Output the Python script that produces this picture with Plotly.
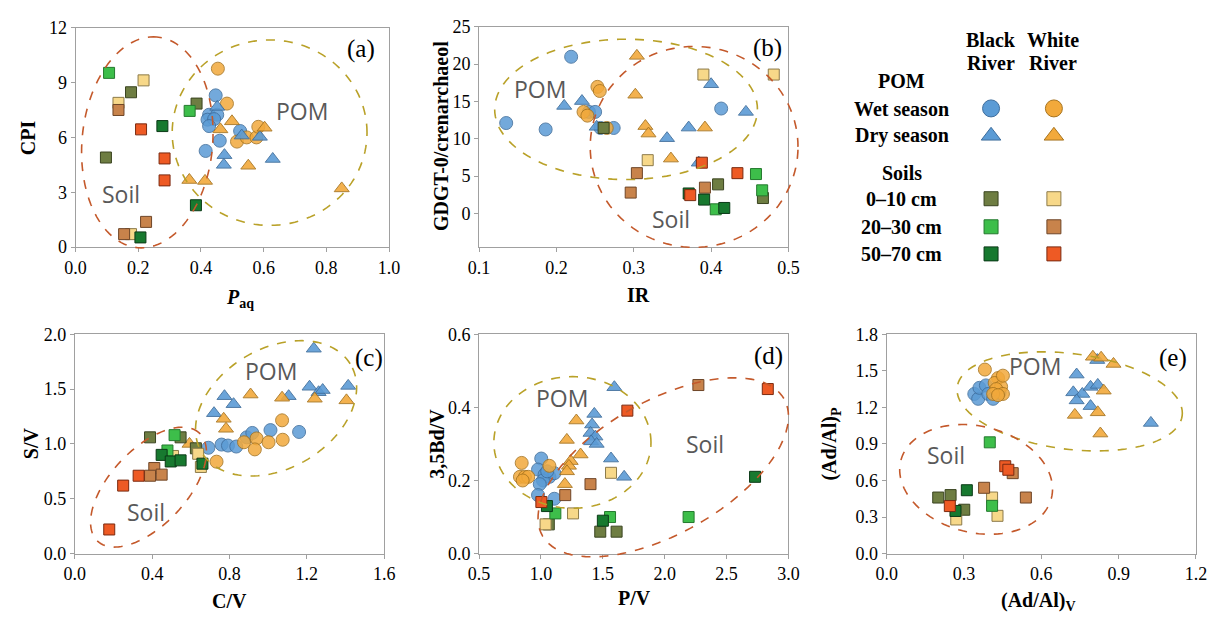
import numpy as np
import plotly.graph_objects as go

W, H = 1223, 621

# ---------------- data ----------------
# Panel (a): P_aq vs CPI
A_BLACK_WET = [(0.447, 8.30), (0.426, 7.24), (0.452, 7.24), (0.421, 6.97), (0.442, 7.00),
               (0.426, 6.62), (0.460, 5.82), (0.415, 5.26), (0.525, 6.35)]
A_WHITE_WET = [(0.454, 9.76), (0.483, 7.85), (0.515, 5.77), (0.546, 6.00), (0.577, 6.00), (0.583, 6.58)]
A_BLACK_DRY = [(0.452, 7.67), (0.475, 5.03), (0.473, 4.50), (0.588, 6.03), (0.629, 4.82), (0.530, 6.10)]
A_WHITE_DRY = [(0.462, 6.44), (0.499, 6.88), (0.603, 6.53), (0.551, 4.45), (0.363, 3.67),
               (0.413, 3.62), (0.849, 3.21)]
A_S1_BLACK = [(0.177, 8.47), (0.097, 4.90), (0.386, 7.85)]
A_S1_WHITE = [(0.217, 9.12), (0.137, 7.89), (0.177, 0.71)]
A_S2_BLACK = [(0.107, 9.53), (0.364, 7.45)]
A_S2_WHITE = [(0.137, 7.50), (0.225, 1.38), (0.155, 0.71)]
A_S3_BLACK = [(0.277, 6.62), (0.384, 2.29), (0.207, 0.53)]
A_S3_WHITE = [(0.209, 6.44), (0.284, 4.85), (0.284, 3.65)]

# Panel (b): IR vs GDGT-0/crenarchaeol
B_BLACK_WET = [(0.219, 20.98), (0.135, 12.11), (0.186, 11.25), (0.242, 13.6), (0.250, 13.6),
               (0.257, 11.45), (0.274, 11.45), (0.413, 14.05)]
B_WHITE_WET = [(0.253, 16.95), (0.256, 16.4), (0.235, 13.6), (0.240, 13.1), (0.265, 11.45)]
B_BLACK_DRY = [(0.210, 14.4), (0.233, 15.05), (0.400, 17.3), (0.445, 13.6), (0.371, 11.5),
               (0.343, 10.08), (0.384, 6.8), (0.252, 11.6)]
B_WHITE_DRY = [(0.304, 21.1), (0.302, 15.9), (0.315, 11.7), (0.319, 10.7), (0.392, 11.5), (0.348, 7.35)]
B_S1_BLACK = [(0.261, 11.45), (0.409, 3.9), (0.467, 2.07)]
B_S1_WHITE = [(0.390, 18.6), (0.481, 18.6), (0.318, 7.14)]
B_S2_BLACK = [(0.458, 5.28), (0.466, 3.1), (0.406, 0.56)]
B_S2_WHITE = [(0.304, 5.4), (0.296, 2.8), (0.392, 3.46)]
B_S3_BLACK = [(0.371, 2.68), (0.391, 1.86), (0.417, 0.74)]
B_S3_WHITE = [(0.388, 6.8), (0.434, 5.4), (0.373, 2.46)]

# Panel (c): C/V vs S/V
C_BLACK_WET = [(0.691, 0.965), (0.759, 0.994), (0.792, 0.985), (0.835, 0.976), (0.889, 1.06),
               (0.918, 1.10), (1.012, 1.126), (1.160, 1.109)]
C_WHITE_WET = [(0.733, 0.838), (0.875, 1.015), (0.940, 1.05), (0.931, 0.95), (1.002, 1.015),
               (1.072, 1.215), (1.075, 1.038)]
C_BLACK_DRY = [(0.720, 1.28), (0.774, 1.435), (0.821, 1.362), (1.106, 1.435), (1.236, 1.868),
               (1.214, 1.521), (1.261, 1.471), (1.282, 1.491), (1.414, 1.529)]
C_WHITE_DRY = [(0.593, 1.0), (0.770, 1.229), (0.782, 1.138), (0.909, 1.45), (1.072, 1.421),
               (1.241, 1.412), (1.405, 1.397)]
C_S1_BLACK = [(0.389, 1.06), (0.547, 1.06), (0.626, 0.96)]
C_S1_WHITE = [(0.508, 0.89), (0.638, 0.91), (0.652, 0.79)]
C_S2_BLACK = [(0.516, 1.08), (0.479, 0.94)]
C_S2_WHITE = [(0.411, 0.78), (0.449, 0.72), (0.389, 0.71)]
C_S3_BLACK = [(0.449, 0.90), (0.496, 0.84), (0.547, 0.85), (0.660, 0.82)]
C_S3_WHITE = [(0.178, 0.22), (0.250, 0.62), (0.330, 0.71)]

# Panel (d): P/V vs 3,5Bd/V
D_BLACK_WET = [(1.002, 0.26), (0.976, 0.23), (1.029, 0.216), (1.068, 0.21), (1.108, 0.22),
               (1.016, 0.20), (0.990, 0.19), (0.976, 0.16), (1.108, 0.15), (1.050, 0.225)]
D_WHITE_WET = [(0.844, 0.248), (0.830, 0.21), (0.870, 0.21), (0.897, 0.21), (0.852, 0.20), (1.068, 0.24)]
D_BLACK_DRY = [(1.593, 0.455), (1.431, 0.382), (1.413, 0.353), (1.400, 0.33), (1.440, 0.32),
               (1.405, 0.307), (1.450, 0.30), (1.566, 0.26), (1.672, 0.21)]
D_WHITE_DRY = [(1.286, 0.364), (1.209, 0.311), (1.320, 0.271), (1.240, 0.253), (1.226, 0.24),
               (1.210, 0.225), (1.193, 0.19)]
D_S1_BLACK = [(1.479, 0.06), (1.611, 0.06), (1.063, 0.08)]
D_S1_WHITE = [(1.566, 0.221), (1.259, 0.11), (1.037, 0.08)]
D_S2_BLACK = [(2.193, 0.10), (1.558, 0.10), (1.116, 0.11)]
D_S2_WHITE = [(2.272, 0.461), (1.400, 0.19), (1.196, 0.16)]
D_S3_BLACK = [(2.730, 0.21), (1.500, 0.09), (1.048, 0.13)]
D_S3_WHITE = [(2.833, 0.45), (1.698, 0.391), (1.003, 0.141)]

# Panel (e): (Ad/Al)V vs (Ad/Al)P
E_BLACK_WET = [(0.340, 1.31), (0.355, 1.27), (0.360, 1.36), (0.385, 1.38), (0.394, 1.31),
               (0.413, 1.27), (0.438, 1.32)]
E_WHITE_WET = [(0.381, 1.51), (0.432, 1.44), (0.419, 1.40), (0.444, 1.37), (0.425, 1.35),
               (0.451, 1.31), (0.413, 1.31), (0.432, 1.30), (0.451, 1.46)]
E_BLACK_DRY = [(0.737, 1.469), (0.724, 1.323), (0.759, 1.31), (0.791, 1.368), (0.737, 1.257),
               (0.819, 1.384), (0.791, 1.21), (0.817, 1.588), (1.025, 1.072)]
E_WHITE_DRY = [(0.800, 1.615), (0.832, 1.607), (0.880, 1.556), (0.842, 1.337), (0.730, 1.138),
               (0.819, 1.159), (0.829, 0.985)]
E_S1_BLACK = [(0.200, 0.46), (0.248, 0.48), (0.301, 0.36)]
E_S1_WHITE = [(0.409, 0.46), (0.430, 0.31), (0.270, 0.28)]
E_S2_BLACK = [(0.400, 0.913), (0.409, 0.392)]
E_S2_WHITE = [(0.489, 0.66), (0.378, 0.54), (0.540, 0.46)]
E_S3_BLACK = [(0.311, 0.52), (0.267, 0.35)]
E_S3_WHITE = [(0.460, 0.717), (0.472, 0.688), (0.245, 0.39)]

# tick values
A_XTICKS = [0.0, 0.2, 0.4, 0.6, 0.8, 1.0]; A_YTICKS = [0, 3, 6, 9, 12]
B_XTICKS = [0.1, 0.2, 0.3, 0.4, 0.5];      B_YTICKS = [0, 5, 10, 15, 20, 25]
C_XTICKS = [0.0, 0.4, 0.8, 1.2, 1.6];      C_YTICKS = [0.0, 0.5, 1.0, 1.5, 2.0]
D_XTICKS = [0.5, 1.0, 1.5, 2.0, 2.5, 3.0]; D_YTICKS = [0.0, 0.2, 0.4, 0.6]
E_XTICKS = [0.0, 0.3, 0.6, 0.9, 1.2];      E_YTICKS = [0.0, 0.3, 0.6, 0.9, 1.2, 1.5, 1.8]

# ---------------- styles ----------------
BLUE, BLUE_E = '#5B9BD5', '#3E6D9C'
ORNG, ORNG_E = '#F2A93B', '#A7741F'
STYLES = [  # symbol, fill, edge, size, opacity
    ('circle', BLUE, BLUE_E, 13, 0.85),
    ('circle', ORNG, ORNG_E, 13, 0.85),
    ('triangle-up', BLUE, BLUE_E, 13, 0.9),
    ('triangle-up', ORNG, ORNG_E, 13, 0.9),
    ('square', '#6E7D42', '#3A4420', 11, 1),
    ('square', '#F7D889', '#8C7A4A', 11, 1),
    ('square', '#3DBE4A', '#24792E', 11, 1),
    ('square', '#C8834B', '#6E4527', 11, 1),
    ('square', '#17792F', '#0B3A17', 11, 1),
    ('square', '#EE5A24', '#7A2A10', 11, 1),
]

SOIL_C = '#C4592B'
POM_C = '#B9A128'
SERIF = 'Liberation Serif'
SANS = 'Open Sans'

PANELS = [
    dict(lab='(a)', series=[A_BLACK_WET, A_WHITE_WET, A_BLACK_DRY, A_WHITE_DRY, A_S1_BLACK, A_S1_WHITE,
                           A_S2_BLACK, A_S2_WHITE, A_S3_BLACK, A_S3_WHITE],
         px=(65.7, 385, 18.3, 245), xr=[0, 1], yr=[0, 12], xt=A_XTICKS, yt=A_YTICKS, xf='{:.1f}', yf='{:d}',
         ell=[(SOIL_C, 0.229, 5.73, 109.3, 66.5, 84.9), (POM_C, 0.619, 6.26, 99.2, 95.8, 0)],
         soil=(111.7, 190), pom=(296.7, 104), labpos=(356.7, 40),
         ytitle=('<b>CPI</b>', 18, 131.7), xtitle=('<b><i>P</i><sub>aq</sub></b>', 233, 298)),
    dict(lab='(b)', series=[B_BLACK_WET, B_WHITE_WET, B_BLACK_DRY, B_WHITE_DRY, B_S1_BLACK, B_S1_WHITE,
                           B_S2_BLACK, B_S2_WHITE, B_S3_BLACK, B_S3_WHITE],
         px=(476.7, 791.7, 17.3, 245), xr=[0.1, 0.5], yr=[-4.5, 25], xt=B_XTICKS, yt=B_YTICKS, xf='{:.1f}', yf='{:d}',
         ell=[(POM_C, 0.29, 13.94, 133.8, 72.5, 0), (SOIL_C, 0.378, 8.92, 105.8, 103.8, 0)],
         soil=(671.7, 216), pom=(538.3, 81.7), labpos=(770, 39.3),
         ytitle=('<b>GDGT-0/crenarchaeol</b>', 438, 130), xtitle=('<b>IR</b>', 639, 294)),
    dict(lab='(c)', series=[C_BLACK_WET, C_WHITE_WET, C_BLACK_DRY, C_WHITE_DRY, C_S1_BLACK, C_S1_WHITE,
                           C_S2_BLACK, C_S2_WHITE, C_S3_BLACK, C_S3_WHITE],
         px=(65, 380, 335, 561.7), xr=[0, 1.6], yr=[0, 2.0], xt=C_XTICKS, yt=C_YTICKS, xf='{:.1f}', yf='{:.1f}',
         ell=[(SOIL_C, 0.381, 0.606, 76.2, 38.9, 47.4), (POM_C, 1.041, 1.324, 88.4, 61.7, 31.4)],
         soil=(137.3, 518.3), pom=(265, 372.7), labpos=(364.3, 360),
         ytitle=('<b>S/V</b>', 20, 448), xtitle=('<b>C/V</b>', 222.7, 611)),
    dict(lab='(d)', series=[D_BLACK_WET, D_WHITE_WET, D_BLACK_DRY, D_WHITE_DRY, D_S1_BLACK, D_S1_WHITE,
                           D_S2_BLACK, D_S2_WHITE, D_S3_BLACK, D_S3_WHITE],
         px=(476.7, 791.7, 335, 561.7), xr=[0.5, 3.0], yr=[0, 0.6], xt=D_XTICKS, yt=D_YTICKS, xf='{:.1f}', yf='{:.1f}',
         ell=[(POM_C, 1.254, 0.304, 80, 68, 0), (SOIL_C, 1.988, 0.236, 141.9, 68.4, 30.05)],
         soil=(706.7, 448.3), pom=(561, 400.7), labpos=(771.7, 357.3),
         ytitle=('<b>3,5Bd/V</b>', 433, 448), xtitle=('<b>P/V</b>', 635, 608)),
    dict(lab='(e)', series=[E_BLACK_WET, E_WHITE_WET, E_BLACK_DRY, E_WHITE_DRY, E_S1_BLACK, E_S1_WHITE,
                           E_S2_BLACK, E_S2_WHITE, E_S3_BLACK, E_S3_WHITE],
         px=(891.7, 1206.7, 335, 561.7), xr=[0, 1.2], yr=[0, 1.8], xt=E_XTICKS, yt=E_YTICKS, xf='{:.1f}', yf='{:.1f}',
         ell=[(POM_C, 0.71, 1.249, 115.5, 49.4, -7.4), (SOIL_C, 0.347, 0.609, 79.1, 54.9, -14.4)],
         soil=(951.7, 460), pom=(1042.7, 368.3), labpos=(1183.3, 360),
         ytitle=('<b>(Ad/Al)<sub>P</sub></b>', 835, 448), xtitle=('<b>(Ad/Al)<sub>V</sub></b>', 1046.7, 611)),
]

fig = go.Figure()
shapes, annos = [], []


def pxx(v):
    return v / W


def pxy(v):
    return 1 - v / H


for i, p in enumerate(PANELS):
    n = '' if i == 0 else str(i + 1)
    x0, x1, y0, y1 = p['px']
    ax = dict(domain=[pxx(x0), pxx(x1)], range=p['xr'], showgrid=False, zeroline=False,
              showline=True, linecolor='#A0A0A0', linewidth=1, mirror=True,
              ticks='outside', ticklen=4, tickcolor='#A0A0A0',
              tickvals=p['xt'], ticktext=[p['xf'].format(v) for v in p['xt']],
              tickfont=dict(family=SERIF, size=18, color='black'), anchor='y' + n, fixedrange=True)
    ay = dict(domain=[pxy(y1), pxy(y0)], range=p['yr'], showgrid=False, zeroline=False,
              showline=True, linecolor='#A0A0A0', linewidth=1, mirror=True,
              ticks='outside', ticklen=4, tickcolor='#A0A0A0',
              tickvals=p['yt'], ticktext=[p['yf'].format(v) for v in p['yt']],
              tickfont=dict(family=SERIF, size=18, color='black'), anchor='x' + n, fixedrange=True)
    fig.update_layout(**{'xaxis' + n: ax, 'yaxis' + n: ay})

    for data, (sym, fc, ec, sz, op) in zip(p['series'], STYLES):
        fig.add_trace(go.Scatter(x=[d[0] for d in data], y=[d[1] for d in data], mode='markers',
                                 xaxis='x' + n, yaxis='y' + n, showlegend=False,
                                 marker=dict(symbol=sym, color=fc, size=sz, opacity=op,
                                             line=dict(color=ec, width=1))))

    # ellipses (center in data units, semi-axes in pixels, angle in degrees)
    def d2p(xv, yv, p=p):
        xa0, xa1, ya0, ya1 = p['px']
        X = xa0 + (xv - p['xr'][0]) / (p['xr'][1] - p['xr'][0]) * (xa1 - xa0)
        Y = ya1 - (yv - p['yr'][0]) / (p['yr'][1] - p['yr'][0]) * (ya1 - ya0)
        return X, Y

    for col, cx, cy, a, b, ang in p['ell']:
        Xc, Yc = d2p(cx, cy)
        th = np.radians(ang)
        t = np.linspace(0, 2 * np.pi, 121)
        dx = a * np.cos(t) * np.cos(th) - b * np.sin(t) * np.sin(th)
        dy = a * np.cos(t) * np.sin(th) + b * np.sin(t) * np.cos(th)
        xs = pxx(Xc + dx)
        ys = pxy(Yc - dy)
        path = 'M ' + ' L '.join(f'{u:.5f},{v:.5f}' for u, v in zip(xs, ys)) + ' Z'
        shapes.append(dict(type='path', path=path, xref='paper', yref='paper',
                           line=dict(color=col, width=1.6, dash='dash'), layer='above'))

    annos.append(dict(text='Soil', x=pxx(p['soil'][0]), y=pxy(p['soil'][1]), xref='paper', yref='paper',
                      showarrow=False, font=dict(family=SANS, size=23, color='#595959'),
                      xanchor='center', yanchor='middle'))
    annos.append(dict(text='POM', x=pxx(p['pom'][0]), y=pxy(p['pom'][1]), xref='paper', yref='paper',
                      showarrow=False, font=dict(family=SANS, size=23, color='#595959'),
                      xanchor='center', yanchor='middle'))
    annos.append(dict(text=p['lab'], x=pxx(p['labpos'][0]), y=pxy(p['labpos'][1]), xref='paper', yref='paper',
                      showarrow=False, font=dict(family=SERIF, size=25, color='black'),
                      xanchor='center', yanchor='middle'))
    t_, tx, ty = p['ytitle']
    annos.append(dict(text=t_, x=pxx(tx), y=pxy(ty), xref='paper', yref='paper', textangle=-90,
                      showarrow=False, font=dict(family=SERIF, size=20, color='black'),
                      xanchor='center', yanchor='middle'))
    t_, tx, ty = p['xtitle']
    annos.append(dict(text=t_, x=pxx(tx), y=pxy(ty), xref='paper', yref='paper',
                      showarrow=False, font=dict(family=SERIF, size=20, color='black'),
                      xanchor='center', yanchor='middle'))

# ---------------- legend (drawn on its own hidden axis, in picture pixels) ----------------
LEG_COLS = [998, 1062]
LEG_ROWS_POM = [101.7, 130]
LEG_ROWS_SOIL = [195, 224, 252]
fig.update_layout(xaxis6=dict(domain=[820 / W, 1], range=[820, 1223], visible=False, fixedrange=True),
                  yaxis6=dict(domain=[1 - 330 / H, 1], range=[330, 0], visible=False, fixedrange=True,
                              anchor='x6'))
leg_items = []
for r, sym in zip(LEG_ROWS_POM, ['circle', 'triangle-up']):
    for c, (fc, ec) in zip(LEG_COLS, [(BLUE, BLUE_E), (ORNG, ORNG_E)]):
        leg_items.append((c, r, sym, fc, ec, 17))
for k, r in enumerate(LEG_ROWS_SOIL):
    for j, c in enumerate(LEG_COLS):
        _, fc, ec, _, _ = STYLES[4 + 2 * k + j]
        leg_items.append((c, r, 'square', fc, ec, 14))
for c, r, sym, fc, ec, sz in leg_items:
    fig.add_trace(go.Scatter(x=[c], y=[r], mode='markers', xaxis='x6', yaxis='y6', showlegend=False,
                             marker=dict(symbol=sym, color=fc, size=sz, line=dict(color=ec, width=1))))

LEG_TEXT = [('Black', 998, 31), ('River', 998, 55), ('White', 1061, 31), ('River', 1061, 55),
            ('POM', 907, 73), ('Wet season', 907, 102), ('Dry season', 907, 130),
            ('Soils', 907, 168), ('0–10 cm', 907, 195), ('20–30 cm', 907, 224), ('50–70 cm', 907, 252)]
for t_, tx, ty in LEG_TEXT:
    annos.append(dict(text='<b>' + t_ + '</b>', x=pxx(tx), y=pxy(ty), xref='paper', yref='paper',
                      showarrow=False, font=dict(family=SERIF, size=20, color='black'),
                      xanchor='center', yanchor='middle'))

fig.update_layout(width=W, height=H, margin=dict(l=0, r=0, t=0, b=0),
                  paper_bgcolor='white', plot_bgcolor='white',
                  shapes=shapes, annotations=annos, showlegend=False)

fig.write_html('out.html')
